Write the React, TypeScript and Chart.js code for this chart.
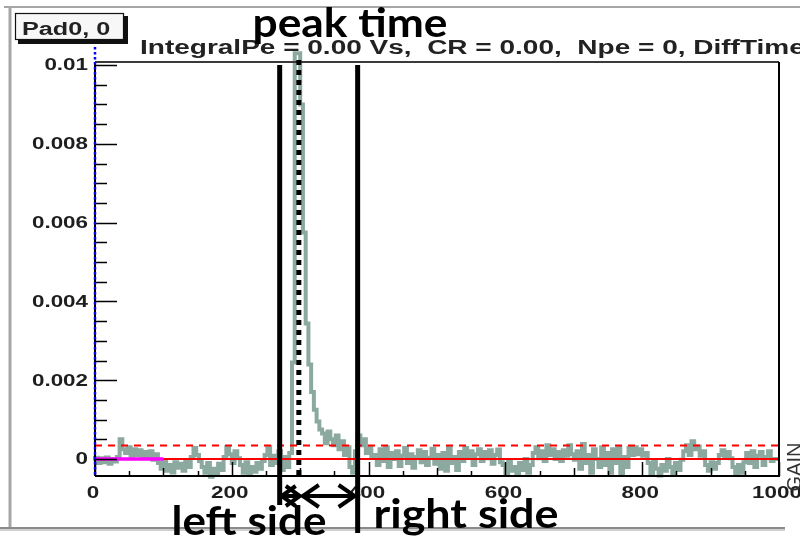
import React, { useEffect, useRef } from "react";
import { Chart, registerables } from "chart.js";

Chart.register(...registerables);

// ---- data (amplitude in units of 1e-4 V·s per bin) ----
const BIN_WIDTH = 4;
const X_MIN = 0;
const X_MAX = 1000;
const Y_MIN = -4.31;
const Y_MAX = 100.76;

const amplitude = [
  // 0-40
  -0.5, 0.3, -1.0, 0.2, -0.8, 0.4, -1.2, 0.0, -0.6, 0.5,
  // 40-48
  5.0, 2.5,
  // 48-96
  1.5, 3.0, 0.8, 2.5, 1.0, 2.2, 0.3, 1.8, 0.6, 2.0, -0.2, 1.2,
  // 96-144
  -1.0, -2.5, -0.5, -3.0, -1.5, -3.4, -0.8, -2.2, -1.2, -3.0, -0.6, -2.0,
  // 144-160
  0.5, 2.8, 1.0, -0.5,
  // 160-192
  -2.0, -3.5, -1.0, -4.5, -2.5, -3.8, -1.2, -2.8,
  // 192-216
  0.5, 3.0, 1.2, -1.0, 2.0, 0.2,
  // 216-252
  -1.5, -3.5, -0.8, -4.0, -2.0, -3.2, -1.0, -2.5, -0.5,
  // 252-268
  1.0, 3.0, -1.5, 0.8,
  // 268-292
  -1.0, 2.0, -2.8, 0.5, -2.0, 1.5,
  // 292-336 (pulse)
  24.5, 103, 103, 90, 57.5, 34.4, 24, 17, 12.5, 9.5, 7.5,
  // 336-384
  6.5, 4.0, 7.0, 5.0, 3.5, 6.0, 2.5, 4.5, 1.0, 3.0, -2.0, -3.5,
  // 384-412
  2.0, 6.0, 3.5, 5.0, 1.5, 3.0, 0.5,
  // 412-508
  1.0, -1.5, 2.5, -0.5, 3.0, -2.0, 1.5, 0.0, 2.0, -1.8, 0.8, 2.8,
  -1.0, 1.2, -2.2, 0.5, 2.2, -0.8, 1.8, -1.5, 0.3, 2.6, -1.2, 1.0,
  // 508-544
  -2.5, 1.5, -3.0, 2.8, -1.0, 0.5, -2.8, 1.8, -0.5,
  // 544-600
  2.8, 0.5, 2.0, -1.5, 1.2, 2.5, -0.5, 1.8, 0.2, 2.2, -1.2, 1.0, 2.4, -0.8,
  // 600-644
  -1.5, -3.8, -0.5, -3.0, -2.0, -4.0, -1.0, -2.8, 0.0, -3.5, -1.5,
  // 644-708
  1.5, 3.0, 0.2, 2.0, -0.5, 3.5, 1.0, 2.5, 0.0, 1.8, -0.5, 2.2, 0.8, 3.5, 1.2, -0.2,
  // 708-756
  2.0, -2.5, 3.8, -1.0, 1.0, -3.5, 2.5, 0.0, -2.0, 3.0, -1.5, 1.5,
  // 756-784
  -3.5, 2.5, -1.0, 3.0, -4.0, 0.5, -2.0,
  // 784-812
  2.8, 1.0, 3.0, 1.2, 2.5, 0.8, 1.5,
  // 812-864
  -1.0, -3.8, -0.5, -2.5, -4.2, -1.5, -3.0, 0.0, -2.0, -4.0, -1.0, -2.8, -0.2,
  // 864-896
  2.0, 3.5, 1.0, 4.5, 2.5, 3.2, 0.8, 2.0,
  // 896-916
  -1.5, -3.0, -0.8, -2.5, -1.0,
  // 916-936
  1.0, 2.2, 0.5, 1.8, 0.2,
  // 936-956
  -2.0, -4.0, -1.5, -3.5, -0.8,
  // 956-1000
  1.5, -1.0, 2.0, -2.0, 0.8, 1.8, -1.5, 0.5, 2.0, -0.5, 0.0,
];

const BASELINE = 0;
const THRESHOLD = 3.4;
const PEDESTAL_START = 0;
const PEDESTAL_END = 100;

const LEFT_EDGE = 270;
const PEAK_TIME = 298;
const RIGHT_EDGE = 384;

const xMajorTicks = [0, 200, 400, 600, 800, 1000];
const xTickLabels = ["0", "200", "400", "600", "800", "1000"];
const yMajorTicks = [0, 20, 40, 60, 80, 100];
const yTickLabels = ["0", "0.002", "0.004", "0.006", "0.008", "0.01"];
const X_MINOR_STEP = 50;
const Y_MINOR_STEP = 5;

const PAD_LABEL = "Pad0, 0";
const TITLE = "IntegralPe = 0.00 Vs,  CR = 0.00,  Npe = 0, DiffTime";
const AXIS_NAME = "GAIN";
const PEAK_LABEL = "peak time";
const LEFT_LABEL = "left side";
const RIGHT_LABEL = "right side";

// ---- drawing helpers ----
const SX = 1.4; // horizontal stretch of the original ROOT canvas text

function stretchText(ctx: CanvasRenderingContext2D, text: string, x: number, y: number, align: CanvasTextAlign, sx: number) {
  ctx.save();
  ctx.translate(x, y);
  ctx.scale(sx, 1);
  ctx.textAlign = align;
  ctx.fillText(text, 0, 0);
  ctx.restore();
}

function fitText(ctx: CanvasRenderingContext2D, text: string, cx: number, y: number, width: number) {
  const w = ctx.measureText(text).width;
  stretchText(ctx, text, cx, y, "center", width / w);
}

function seg(ctx: CanvasRenderingContext2D, x1: number, y1: number, x2: number, y2: number) {
  ctx.beginPath();
  ctx.moveTo(x1, y1);
  ctx.lineTo(x2, y2);
  ctx.stroke();
}

function dblArrow(ctx: CanvasRenderingContext2D, x1: number, x2: number, y: number, head: number, half: number) {
  seg(ctx, x1, y, x2, y);
  ctx.beginPath();
  ctx.moveTo(x1 + head, y - half);
  ctx.lineTo(x1, y);
  ctx.lineTo(x1 + head, y + half);
  ctx.stroke();
  ctx.beginPath();
  ctx.moveTo(x2 - head, y - half);
  ctx.lineTo(x2, y);
  ctx.lineTo(x2 - head, y + half);
  ctx.stroke();
}

const rootStyle = {
  id: "rootStyle",
  afterDatasetsDraw(chart: any) {
    const ctx: CanvasRenderingContext2D = chart.ctx;
    const a = chart.chartArea;
    const xs = chart.scales.x;
    const ys = chart.scales.y;
    ctx.save();
    ctx.lineCap = "butt";

    // canvas border
    ctx.strokeStyle = "#a6a6a6";
    ctx.lineWidth = 2;
    seg(ctx, 4, 7, 800, 7);
    ctx.lineWidth = 3;
    seg(ctx, 10, 6, 10, 528);
    ctx.strokeStyle = "#8a8a8a";
    ctx.lineWidth = 2;
    seg(ctx, 0, 528, 785, 528);
    ctx.strokeStyle = "#cfcfcf";
    seg(ctx, 0, 530, 785, 530);

    // frame
    ctx.strokeStyle = "#3a3a3a";
    ctx.lineWidth = 2;
    seg(ctx, a.left, a.top, a.right, a.top);
    ctx.strokeStyle = "#000";
    seg(ctx, a.right, a.top, a.right, a.bottom);
    seg(ctx, a.left, a.bottom, a.right + 1, a.bottom);
    seg(ctx, a.left, a.top, a.left, a.bottom);

    // y ticks (inside)
    ctx.lineWidth = 1.5;
    for (let v = 0; v <= Y_MAX; v += Y_MINOR_STEP) {
      const py = Math.round(ys.getPixelForValue(v)) + 0.5;
      const len = yMajorTicks.includes(v) ? 22 : 12;
      seg(ctx, a.left, py, a.left + len, py);
    }
    // x ticks (inside)
    for (let v = X_MIN; v <= X_MAX; v += X_MINOR_STEP) {
      const px = Math.round(xs.getPixelForValue(v)) + 0.5;
      const len = v % 200 === 0 ? 14 : v % 100 === 0 ? 8 : 5;
      seg(ctx, px, a.bottom, px, a.bottom - len);
    }

    // blue dotted axis overlay
    ctx.strokeStyle = "#0000ff";
    ctx.lineWidth = 2.5;
    ctx.setLineDash([2.5, 2.5]);
    seg(ctx, a.left, a.top - 15, a.left, a.bottom);
    ctx.setLineDash([]);

    // tick labels
    ctx.fillStyle = "#1e1e1e";
    ctx.font = "bold 16px 'Liberation Sans', Arial, sans-serif";
    ctx.textBaseline = "middle";
    yMajorTicks.forEach((v, i) => {
      stretchText(ctx, yTickLabels[i], a.left - 7, ys.getPixelForValue(v) + 1, "right", SX);
    });
    ctx.textBaseline = "alphabetic";
    xMajorTicks.forEach((v, i) => {
      stretchText(ctx, xTickLabels[i], xs.getPixelForValue(v) - 2, a.bottom + 22, "center", SX);
    });

    // title
    ctx.font = "bold 20px 'Liberation Sans', Arial, sans-serif";
    ctx.fillStyle = "#222";
    stretchText(ctx, TITLE, 140, 54, "left", SX);

    // pad label box
    ctx.fillStyle = "#111";
    ctx.fillRect(18, 16, 110, 28);
    ctx.fillStyle = "#f7f7f7";
    ctx.fillRect(15, 13, 109, 27);
    ctx.strokeStyle = "#111";
    ctx.lineWidth = 1.2;
    ctx.strokeRect(15.5, 13.5, 108, 26);
    ctx.fillStyle = "#222";
    ctx.font = "bold 18px 'Liberation Sans', Arial, sans-serif";
    stretchText(ctx, PAD_LABEL, 22, 35, "left", SX);

    // GAIN
    ctx.save();
    ctx.translate(801, 467);
    ctx.rotate(-Math.PI / 2);
    ctx.fillStyle = "#333";
    ctx.font = "20px 'Liberation Sans', Arial, sans-serif";
    ctx.textAlign = "center";
    ctx.fillText(AXIS_NAME, 0, 0);
    ctx.restore();

    // annotations
    const lx = xs.getPixelForValue(LEFT_EDGE);
    const px = xs.getPixelForValue(PEAK_TIME);
    const rx = xs.getPixelForValue(RIGHT_EDGE);
    ctx.strokeStyle = "#000";
    ctx.lineWidth = 5;
    seg(ctx, lx, a.top + 3, lx, 505);
    seg(ctx, rx, a.top + 3, rx, 533);
    ctx.setLineDash([5, 5]);
    seg(ctx, px, a.top - 2, px, a.bottom);
    ctx.setLineDash([]);
    ctx.lineWidth = 4;
    dblArrow(ctx, lx + 2, px + 1, 496, 14, 10);
    dblArrow(ctx, px + 4, rx - 3, 496, 16, 11);

    ctx.fillStyle = "#000";
    ctx.font = "bold 40px Lato, 'Open Sans', sans-serif";
    ctx.textBaseline = "alphabetic";
    fitText(ctx, PEAK_LABEL, 350, 37, 195);
    fitText(ctx, LEFT_LABEL, 249, 535, 155);
    fitText(ctx, RIGHT_LABEL, 466, 528, 185);

    ctx.restore();
  },
};

export default function App() {
  const ref = useRef<HTMLCanvasElement | null>(null);
  useEffect(() => {
    if (!ref.current) return;
    const wave = amplitude.map((v, i) => ({ x: X_MIN + i * BIN_WIDTH, y: v }));
    wave.push({ x: X_MAX, y: amplitude[amplitude.length - 1] });
    const chart = new Chart(ref.current, {
      type: "line",
      data: {
        datasets: [
          {
            label: "pedestal",
            data: [
              { x: PEDESTAL_START, y: BASELINE },
              { x: PEDESTAL_END, y: BASELINE },
            ],
            borderColor: "#ff00ff",
            borderWidth: 3.5,
            pointRadius: 0,
            order: 1,
          },
          {
            label: "baseline",
            data: [
              { x: X_MIN, y: BASELINE },
              { x: X_MAX, y: BASELINE },
            ],
            borderColor: "#ff0000",
            borderWidth: 2,
            pointRadius: 0,
            order: 2,
          },
          {
            label: "threshold",
            data: [
              { x: X_MIN, y: THRESHOLD },
              { x: X_MAX, y: THRESHOLD },
            ],
            borderColor: "#ff0000",
            borderWidth: 2,
            borderDash: [7, 6],
            pointRadius: 0,
            order: 3,
          },
          {
            label: "signal",
            data: wave,
            borderColor: "#8ca99f",
            borderWidth: 4,
            stepped: "after",
            pointRadius: 0,
            clip: false,
            order: 4,
          },
        ],
      },
      options: {
        responsive: false,
        animation: false,
        maintainAspectRatio: false,
        layout: { padding: { left: 95, right: 21, top: 62, bottom: 69 } },
        scales: {
          x: { type: "linear", min: X_MIN, max: X_MAX, display: false },
          y: { type: "linear", min: Y_MIN, max: Y_MAX, display: false },
        },
        plugins: { legend: { display: false }, tooltip: { enabled: false } },
      },
      plugins: [rootStyle],
    });
    return () => chart.destroy();
  }, []);
  return (
    <div style={{ position: "fixed", left: 0, top: 0, width: 800, height: 545, background: "#fff" }}>
      <canvas ref={ref} width={800} height={545} style={{ width: 800, height: 545, display: "block" }} />
    </div>
  );
}
